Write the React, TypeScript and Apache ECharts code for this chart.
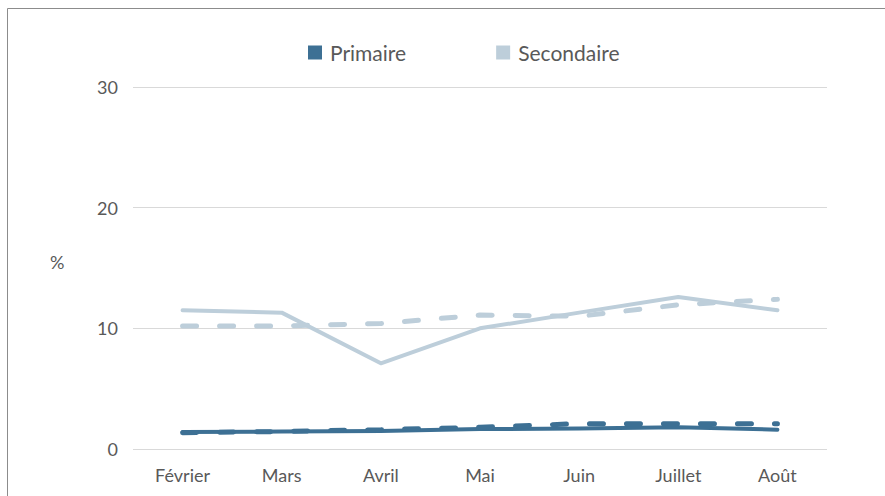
import React, { useEffect, useRef } from "react";
import * as echarts from "echarts";

const categories = ["Février", "Mars", "Avril", "Mai", "Juin", "Juillet", "Août"];
const primaire = [1.4, 1.45, 1.5, 1.65, 1.7, 1.8, 1.6];
const primaireTendance = [1.35, 1.45, 1.6, 1.8, 2.1, 2.1, 2.1];
const secondaire = [11.5, 11.3, 7.1, 10.0, 11.3, 12.6, 11.5];
const secondaireTendance = [10.2, 10.2, 10.4, 11.1, 11.0, 11.95, 12.4];
const yTicks = { min: 0, max: 30, interval: 10 };

const C_PRIM = "#3D7094";
const C_SEC = "#BDCEDA";
const FONT = "Lato, 'Open Sans', sans-serif";

export default function App() {
  const ref = useRef<HTMLDivElement>(null);
  useEffect(() => {
    if (!ref.current) return;
    const chart = echarts.init(ref.current, null, { renderer: "svg" });
    chart.setOption({
      animation: false,
      backgroundColor: "#ffffff",
      grid: { left: 133, right: 58, top: 87, bottom: 47, containLabel: false },
      legend: {
        top: 42,
        left: 308,
        padding: 0,
        icon: "rect",
        itemWidth: 14,
        itemHeight: 14,
        itemGap: 90,
        data: ["Primaire", "Secondaire"],
        textStyle: { color: "#595959", fontSize: 21, fontFamily: FONT, padding: [0, 0, 0, 3] },
      },
      xAxis: {
        type: "category",
        data: categories,
        boundaryGap: true,
        axisLine: { show: false },
        axisTick: { show: false },
        axisLabel: { color: "#595959", fontSize: 18, fontFamily: FONT, margin: 17 },
      },
      yAxis: {
        type: "value",
        min: yTicks.min,
        max: yTicks.max,
        interval: yTicks.interval,
        axisLine: { show: false },
        axisTick: { show: false },
        axisLabel: { color: "#595959", fontSize: 18, fontFamily: FONT, margin: 15 },
        splitLine: { lineStyle: { color: "#d9d9d9", width: 1 } },
      },
      graphic: [
        {
          type: "line",
          shape: { x1: 7.5, y1: 496, x2: 7.5, y2: 8.5 },
          style: { stroke: "#8c8c8c", lineWidth: 1 },
        },
        {
          type: "line",
          shape: { x1: 7.5, y1: 8.5, x2: 885, y2: 8.5 },
          style: { stroke: "#8c8c8c", lineWidth: 1 },
        },
        {
          type: "text",
          left: 50,
          top: 253,
          style: { text: "%", fill: "#595959", fontSize: 18, fontFamily: FONT },
        },
      ],
      series: [
        {
          name: "Secondaire",
          type: "line",
          data: secondaire,
          symbol: "none",
          itemStyle: { color: C_SEC },
          lineStyle: { color: C_SEC, width: 4, cap: "round", join: "round" },
          z: 2,
        },
        {
          name: "Secondaire tendance",
          type: "line",
          data: secondaireTendance,
          symbol: "none",
          itemStyle: { color: C_SEC },
          lineStyle: { color: C_SEC, width: 5, type: [14, 23], cap: "round" },
          z: 2,
        },
        {
          name: "Primaire",
          type: "line",
          data: primaire,
          symbol: "none",
          itemStyle: { color: C_PRIM },
          lineStyle: { color: C_PRIM, width: 4, cap: "round", join: "round" },
          z: 3,
        },
        {
          name: "Primaire tendance",
          type: "line",
          data: primaireTendance,
          symbol: "none",
          itemStyle: { color: C_PRIM },
          lineStyle: { color: C_PRIM, width: 5, type: [14, 23], cap: "round" },
          z: 3,
        },
      ],
    });
    return () => chart.dispose();
  }, []);
  return (
    <div
      ref={ref}
      style={{ position: "fixed", left: 0, top: 0, width: 885, height: 496 }}
    />
  );
}
